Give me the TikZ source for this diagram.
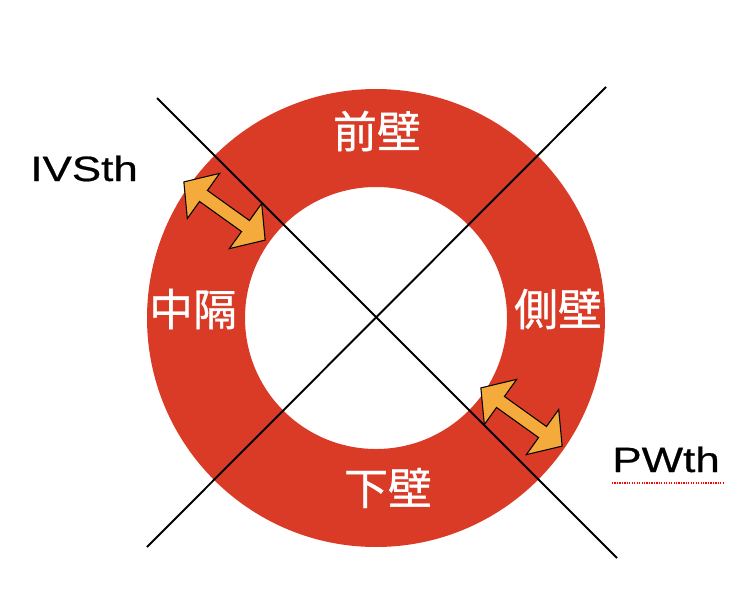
\documentclass[tikz,border=0pt]{standalone}
\usepackage{fontspec}
\usetikzlibrary{shapes.arrows}
\newfontfamily\latfont[FakeStretch=1.25,FakeBold=0.6]{Liberation Sans}
\newfontfamily\jpfont[FakeBold=0.8]{Noto Sans CJK JP}
\definecolor{wallred}{RGB}{218,59,39}
\definecolor{arrorange}{RGB}{245,170,60}

\begin{document}
\begin{tikzpicture}[
  x=0.02cm,y=-0.02cm,
  wall/.style={font=\jpfont\fontsize{25}{25}\selectfont, text=white, inner sep=0pt},
  lab/.style={font=\latfont\fontsize{20}{20}\selectfont, inner sep=0pt, anchor=base west},
  thick arrow/.style={shape=double arrow, draw=black, line width=0.6pt, fill=arrorange,
    minimum height=2cm, inner xsep=0pt, inner ysep=0.125cm,
    double arrow head extend=0.42cm, double arrow tip angle=98, rotate=-35.6},
  diag/.style={line width=1.1pt},
  spell/.style={draw=red, dash pattern=on 0.7pt off 0.7pt, line width=0.7pt}
]
\useasboundingbox (0,0) rectangle (754,602);

% -------------------------
% ring
% -------------------------
\coordinate (c) at (376,318);
\fill[wallred, even odd rule] (c) circle[radius=229] (c) circle[radius=131];

% -------------------------
% diagonals
% -------------------------
\coordinate (d1s) at (157,98);
\coordinate (d1e) at (617,558);
\coordinate (d2s) at (147,547);
\coordinate (d2e) at (606,87);
\draw[diag] (d1s) -- (d1e);
\draw[diag] (d2s) -- (d2e);

% -------------------------
% wall names
% -------------------------
\node[wall] (ant) at (377,131) {前壁};
\node[wall] (sep) at (193,309) {中隔};
\node[wall] (lat) at (558,309) {側壁};
\node[wall] (inf) at (388,488) {下壁};

% -------------------------
% thickness arrows
% -------------------------
\node[thick arrow] (ivsarr) at (224.5,211) {};
\node[thick arrow] (pwarr) at (521.5,417) {};

\node[lab] (ivs) at (30,181) {IVSth};
\node[lab] (pw) at (612,472) {PWth};
\draw[spell] (612,483) -- (725,483);

\end{tikzpicture}
\end{document}
